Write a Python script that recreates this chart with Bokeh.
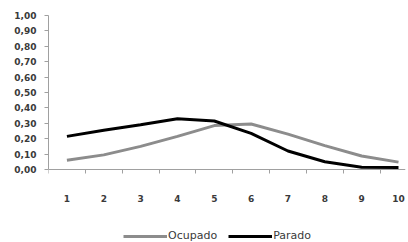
from bokeh.plotting import figure
from bokeh.models import Range1d, FixedTicker, CustomJSTickFormatter, Legend, LegendItem
from bokeh.embed import file_html
from bokeh.resources import INLINE

categories = [1, 2, 3, 4, 5, 6, 7, 8, 9, 10]
ocupado = [0.06, 0.095, 0.15, 0.215, 0.285, 0.295, 0.23, 0.155, 0.088, 0.048]
parado = [0.215, 0.255, 0.29, 0.33, 0.315, 0.235, 0.12, 0.05, 0.015, 0.013]
y_ticks = [0.0, 0.1, 0.2, 0.3, 0.4, 0.5, 0.6, 0.7, 0.8, 0.9, 1.0]
x_bounds = [0.5, 1.5, 2.5, 3.5, 4.5, 5.5, 6.5, 7.5, 8.5, 9.5]

p = figure(width=408, height=242, output_backend="svg", toolbar_location=None,
           x_axis_location="above",
           x_range=Range1d(0.5, 10.19), y_range=Range1d(-0.474, 1.0),
           min_border_left=48, min_border_right=3, min_border_top=15, min_border_bottom=0)
p.outline_line_color = None
p.xgrid.visible = False
p.ygrid.visible = False
p.background_fill_color = "white"
p.border_fill_color = "white"

axis_color = "#a0a0a0"
label_color = "#3a3a3a"

p.yaxis.ticker = FixedTicker(ticks=y_ticks)
p.yaxis.bounds = (0, 1)
p.yaxis.formatter = CustomJSTickFormatter(code="return tick.toFixed(2).replace('.', ',');")
p.yaxis.axis_line_color = axis_color
p.yaxis.major_tick_line_color = axis_color
p.yaxis.major_tick_out = 4
p.yaxis.major_tick_in = 0
p.yaxis.minor_tick_line_color = None
p.yaxis.major_label_text_font = "DejaVu Sans"
p.yaxis.major_label_text_font_style = "bold"
p.yaxis.major_label_text_font_size = "9px"
p.yaxis.major_label_text_color = label_color
p.yaxis.major_label_standoff = 8

xa = p.xaxis[0]
xa.fixed_location = 0
xa.ticker = FixedTicker(ticks=categories, minor_ticks=x_bounds)
xa.axis_line_color = axis_color
xa.major_tick_line_color = None
xa.major_tick_out = 0
xa.major_tick_in = 0
xa.minor_tick_line_color = axis_color
xa.minor_tick_out = 0
xa.minor_tick_in = 4
xa.major_label_text_font = "DejaVu Sans"
xa.major_label_text_font_style = "bold"
xa.major_label_text_font_size = "9px"
xa.major_label_text_color = label_color
xa.major_label_standoff = -32

r1 = p.line(categories, ocupado, line_color="#8c8c8c", line_width=3)
r2 = p.line(categories, parado, line_color="#000000", line_width=3)

legend = Legend(items=[LegendItem(label="Ocupado", renderers=[r1]),
                       LegendItem(label="Parado", renderers=[r2])],
                orientation="horizontal", location=(75, 0),
                glyph_width=44, glyph_height=10, label_standoff=1, spacing=11,
                padding=0, margin=0, border_line_color=None, background_fill_alpha=0,
                label_text_font="DejaVu Sans", label_text_font_size="11px",
                label_text_color=label_color, label_height=12)
p.add_layout(legend, "center")

open("out.html", "w").write(file_html(p, INLINE))
